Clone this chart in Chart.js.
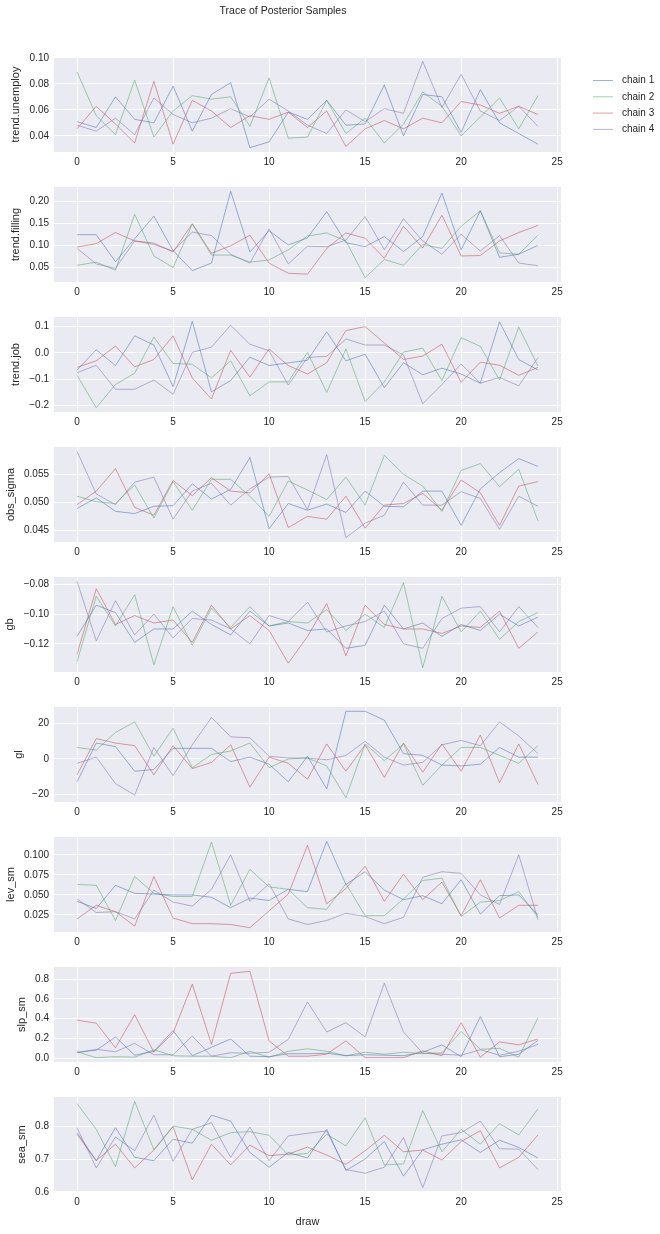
<!DOCTYPE html>
<html>
<head>
<meta charset="utf-8">
<script src="https://cdn.jsdelivr.net/npm/chart.js@4.4.0/dist/chart.umd.min.js"></script>
<style>
  body { margin: 0; background: #fff; width: 660px; height: 1234px; overflow: hidden; position: relative; }
  .panel { position: absolute; left: 0; width: 660px; height: 195px; }
</style>
</head>
<body>
<script>
// x values and labels
var draws = [0, 1, 2, 3, 4, 5, 6, 7, 8, 9, 10, 11, 12, 13, 14, 15, 16, 17, 18, 19, 20, 21, 22, 23, 24];
var xTicks = [0, 5, 10, 15, 20, 25];
var chainNames = ['chain 1', 'chain 2', 'chain 3', 'chain 4'];
var paramNames = ['trend.unemploy', 'trend.filling', 'trend.job', 'obs_sigma', 'gb', 'gl', 'lev_sm', 'slp_sm', 'sea_sm'];

// one array per chain, chains 1..4
var trendUnemploy = [
  [0.0509, 0.0464, 0.0700, 0.0527, 0.0500, 0.0782, 0.0436, 0.0718, 0.0809, 0.0309, 0.0354, 0.0582, 0.0527, 0.0673, 0.0482, 0.0491, 0.0791, 0.0400, 0.0718, 0.0700, 0.0427, 0.0755, 0.0500, 0.0418, 0.0336],
  [0.0891, 0.0555, 0.0409, 0.0828, 0.0391, 0.0591, 0.0709, 0.0682, 0.0700, 0.0473, 0.0846, 0.0382, 0.0391, 0.0673, 0.0418, 0.0536, 0.0345, 0.0491, 0.0737, 0.0627, 0.0400, 0.0545, 0.0691, 0.0454, 0.0709],
  [0.0454, 0.0627, 0.0491, 0.0345, 0.0819, 0.0336, 0.0673, 0.0591, 0.0464, 0.0555, 0.0527, 0.0582, 0.0464, 0.0591, 0.0318, 0.0454, 0.0518, 0.0454, 0.0536, 0.0500, 0.0664, 0.0637, 0.0573, 0.0627, 0.0564],
  [0.0482, 0.0436, 0.0536, 0.0409, 0.0691, 0.0564, 0.0500, 0.0536, 0.0609, 0.0545, 0.0682, 0.0591, 0.0482, 0.0418, 0.0600, 0.0509, 0.0609, 0.0573, 0.0973, 0.0618, 0.0873, 0.0591, 0.0518, 0.0627, 0.0473]
];
var trendFilling = [
  [0.124, 0.124, 0.063, 0.115, 0.166, 0.088, 0.043, 0.060, 0.222, 0.085, 0.133, 0.101, 0.117, 0.176, 0.106, 0.097, 0.120, 0.086, 0.120, 0.218, 0.090, 0.178, 0.073, 0.080, 0.100],
  [0.055, 0.062, 0.044, 0.170, 0.076, 0.050, 0.148, 0.078, 0.078, 0.062, 0.067, 0.090, 0.121, 0.128, 0.110, 0.027, 0.068, 0.055, 0.102, 0.093, 0.143, 0.178, 0.083, 0.080, 0.123],
  [0.096, 0.104, 0.129, 0.110, 0.105, 0.085, 0.149, 0.082, 0.099, 0.123, 0.060, 0.037, 0.035, 0.093, 0.128, 0.116, 0.071, 0.143, 0.094, 0.168, 0.076, 0.077, 0.110, 0.129, 0.145],
  [0.093, 0.058, 0.048, 0.110, 0.102, 0.087, 0.130, 0.122, 0.080, 0.060, 0.137, 0.058, 0.098, 0.097, 0.112, 0.165, 0.090, 0.160, 0.110, 0.080, 0.125, 0.087, 0.122, 0.060, 0.054]
];
var trendJob = [
  [-0.065, 0.012, -0.048, 0.065, 0.030, -0.128, 0.120, -0.148, -0.105, -0.016, -0.048, -0.038, -0.028, 0.080, -0.030, -0.005, -0.132, -0.037, -0.083, -0.058, -0.080, -0.115, 0.118, -0.025, -0.065],
  [-0.085, -0.208, -0.120, -0.077, 0.060, -0.040, -0.043, -0.095, -0.030, -0.163, -0.110, -0.110, 0.002, -0.150, 0.015, -0.185, -0.110, 0.003, 0.018, -0.105, 0.058, 0.025, -0.103, 0.098, -0.050],
  [-0.055, -0.030, 0.026, -0.053, -0.025, 0.065, -0.095, -0.175, 0.010, -0.092, 0.015, -0.048, -0.080, -0.037, 0.085, 0.100, 0.038, -0.025, -0.012, 0.033, -0.112, -0.035, -0.047, -0.085, -0.055],
  [-0.075, -0.047, -0.138, -0.138, -0.103, -0.157, 0.002, 0.022, 0.105, 0.033, 0.008, -0.122, -0.017, -0.013, 0.053, 0.030, 0.030, -0.008, -0.193, -0.120, -0.042, -0.115, -0.093, -0.125, -0.018]
];
var obsSigma = [
  [0.0489, 0.0508, 0.0484, 0.0480, 0.0493, 0.0494, 0.0533, 0.0506, 0.0523, 0.0580, 0.0453, 0.0498, 0.0486, 0.0497, 0.0482, 0.0520, 0.0493, 0.0492, 0.0520, 0.0520, 0.0459, 0.0524, 0.0553, 0.0578, 0.0564],
  [0.0511, 0.0501, 0.0498, 0.0531, 0.0472, 0.0537, 0.0486, 0.0541, 0.0541, 0.0511, 0.0475, 0.0538, 0.0522, 0.0505, 0.0545, 0.0495, 0.0584, 0.0550, 0.0529, 0.0484, 0.0557, 0.0569, 0.0528, 0.0559, 0.0467],
  [0.0496, 0.0520, 0.0560, 0.0491, 0.0477, 0.0539, 0.0512, 0.0544, 0.0520, 0.0517, 0.0551, 0.0455, 0.0475, 0.0470, 0.0511, 0.0454, 0.0495, 0.0498, 0.0516, 0.0486, 0.0540, 0.0517, 0.0459, 0.0529, 0.0537],
  [0.0591, 0.0515, 0.0496, 0.0536, 0.0545, 0.0470, 0.0520, 0.0534, 0.0495, 0.0524, 0.0545, 0.0546, 0.0487, 0.0585, 0.0437, 0.0463, 0.0477, 0.0536, 0.0495, 0.0495, 0.0519, 0.0507, 0.0452, 0.0511, 0.0493]
];
var gb = [
  [-0.115, -0.094, -0.099, -0.119, -0.110, -0.110, -0.098, -0.107, -0.114, -0.098, -0.108, -0.106, -0.111, -0.110, -0.123, -0.121, -0.094, -0.110, -0.106, -0.115, -0.107, -0.111, -0.100, -0.108, -0.102],
  [-0.132, -0.088, -0.108, -0.087, -0.134, -0.095, -0.121, -0.096, -0.109, -0.095, -0.108, -0.105, -0.106, -0.097, -0.111, -0.100, -0.109, -0.079, -0.136, -0.088, -0.112, -0.098, -0.117, -0.105, -0.099],
  [-0.127, -0.083, -0.107, -0.101, -0.106, -0.104, -0.119, -0.094, -0.110, -0.101, -0.111, -0.133, -0.115, -0.093, -0.128, -0.094, -0.107, -0.110, -0.110, -0.113, -0.108, -0.109, -0.098, -0.123, -0.112],
  [-0.078, -0.118, -0.091, -0.114, -0.100, -0.116, -0.103, -0.104, -0.110, -0.120, -0.101, -0.105, -0.092, -0.112, -0.108, -0.105, -0.098, -0.120, -0.123, -0.103, -0.096, -0.095, -0.112, -0.095, -0.109]
];
var gl = [
  [-13, 9, 7, -7, -6, 6, 6, 6, -1.5, 1, -3, -13, 1.5, -17, 27, 27, 22, 3, 2, -3.5, -4, -3, 6.5, 1, 1],
  [6.5, 5, 15, 21, 1.5, 17.5, -5, 2.5, 4.5, 9, -5, 0, 0.5, -4, -22, 8.5, -1, 8.5, -15, -3.5, 6.5, 6.5, 2, -2.5, 7.5],
  [-9, 11.5, 9, 7.5, -9, 7.5, -5.5, -2, 8, -16, 1, -2.5, -11.5, 8.5, -7, 8, -10.5, 9, -7.5, 8.5, -7, 13.5, -13.5, 8.5, -14.5],
  [-2.5, 1, -14, -20.5, 6.5, -9.5, 8, 23.5, 12.5, 12, 1.5, 0.5, 0.5, -0.5, 2, 10, 1, -3.5, -2, 8, 10.5, 7.5, 21, 13, 3]
];
var levSm = [
  [0.042, 0.033, 0.062, 0.052, 0.051, 0.050, 0.050, 0.047, 0.034, 0.046, 0.043, 0.057, 0.054, 0.117, 0.063, 0.079, 0.056, 0.044, 0.049, 0.039, 0.069, 0.026, 0.049, 0.050, 0.025],
  [0.063, 0.062, 0.018, 0.073, 0.052, 0.048, 0.048, 0.116, 0.037, 0.082, 0.060, 0.057, 0.034, 0.032, 0.064, 0.024, 0.024, 0.045, 0.068, 0.071, 0.023, 0.041, 0.043, 0.054, 0.022],
  [0.020, 0.037, 0.029, 0.011, 0.073, 0.021, 0.014, 0.014, 0.013, 0.009, 0.030, 0.051, 0.112, 0.039, 0.058, 0.086, 0.042, 0.076, 0.044, 0.066, 0.024, 0.069, 0.021, 0.037, 0.037],
  [0.045, 0.028, 0.029, 0.020, 0.056, 0.041, 0.036, 0.057, 0.100, 0.042, 0.064, 0.020, 0.013, 0.018, 0.027, 0.023, 0.014, 0.022, 0.072, 0.079, 0.077, 0.050, 0.038, 0.100, 0.019]
];
var slpSm = [
  [0.060, 0.080, 0.215, 0.030, 0.070, 0.280, 0.025, 0.110, 0.195, 0.020, 0.015, 0.045, 0.045, 0.050, 0.025, 0.035, 0.030, 0.025, 0.060, 0.135, 0.015, 0.420, 0.015, 0.040, 0.180],
  [0.065, 0.005, 0.015, 0.010, 0.085, 0.025, 0.020, 0.020, 0.005, 0.070, 0.010, 0.070, 0.095, 0.070, 0.025, 0.060, 0.040, 0.060, 0.045, 0.055, 0.270, 0.090, 0.100, 0.010, 0.410],
  [0.385, 0.355, 0.105, 0.440, 0.060, 0.255, 0.750, 0.140, 0.860, 0.880, 0.175, 0.020, 0.020, 0.040, 0.175, 0.005, 0.005, 0.005, 0.075, 0.025, 0.360, 0.010, 0.165, 0.135, 0.195],
  [0.055, 0.090, 0.065, 0.150, 0.035, 0.035, 0.225, 0.020, 0.055, 0.050, 0.060, 0.190, 0.570, 0.265, 0.360, 0.215, 0.760, 0.265, 0.050, 0.040, 0.030, 0.085, 0.030, 0.070, 0.140]
];
var seaSm = [
  [0.780, 0.695, 0.795, 0.705, 0.695, 0.760, 0.748, 0.833, 0.815, 0.720, 0.675, 0.720, 0.703, 0.790, 0.665, 0.700, 0.753, 0.648, 0.728, 0.745, 0.758, 0.720, 0.757, 0.735, 0.703],
  [0.868, 0.790, 0.677, 0.875, 0.728, 0.800, 0.790, 0.757, 0.780, 0.783, 0.772, 0.712, 0.717, 0.775, 0.740, 0.825, 0.682, 0.685, 0.847, 0.722, 0.790, 0.745, 0.807, 0.773, 0.852],
  [0.775, 0.695, 0.745, 0.673, 0.727, 0.798, 0.637, 0.745, 0.682, 0.742, 0.710, 0.715, 0.736, 0.712, 0.684, 0.725, 0.772, 0.722, 0.727, 0.697, 0.753, 0.786, 0.673, 0.705, 0.773],
  [0.795, 0.673, 0.767, 0.725, 0.833, 0.693, 0.790, 0.810, 0.705, 0.797, 0.695, 0.770, 0.778, 0.785, 0.668, 0.657, 0.675, 0.765, 0.613, 0.770, 0.780, 0.815, 0.731, 0.730, 0.668]
];

// y tick values and their labels, per panel
var unemployTicks = [0.04, 0.06, 0.08, 0.10];
var unemployLabels = ['0.04', '0.06', '0.08', '0.10'];
var fillingTicks = [0.05, 0.10, 0.15, 0.20];
var fillingLabels = ['0.05', '0.10', '0.15', '0.20'];
var jobTicks = [-0.2, -0.1, 0.0, 0.1];
var jobLabels = ['\u22120.2', '\u22120.1', '0.0', '0.1'];
var sigmaTicks = [0.045, 0.050, 0.055];
var sigmaLabels = ['0.045', '0.050', '0.055'];
var gbTicks = [-0.12, -0.10, -0.08];
var gbLabels = ['\u22120.12', '\u22120.10', '\u22120.08'];
var glTicks = [-20, 0, 20];
var glLabels = ['\u221220', '0', '20'];
var levTicks = [0.025, 0.050, 0.075, 0.100];
var levLabels = ['0.025', '0.050', '0.075', '0.100'];
var slpTicks = [0.0, 0.2, 0.4, 0.6, 0.8];
var slpLabels = ['0.0', '0.2', '0.4', '0.6', '0.8'];
var seaTicks = [0.6, 0.7, 0.8];
var seaLabels = ['0.6', '0.7', '0.8'];

var allSeries = [trendUnemploy, trendFilling, trendJob, obsSigma, gb, gl, levSm, slpSm, seaSm];
var allTicks = [unemployTicks, fillingTicks, jobTicks, sigmaTicks, gbTicks, glTicks, levTicks, slpTicks, seaTicks];
var allLabels = [unemployLabels, fillingLabels, jobLabels, sigmaLabels, gbLabels, glLabels, levLabels, slpLabels, seaLabels];

var chainColors = ['rgba(76,114,176,0.55)', 'rgba(85,168,104,0.55)', 'rgba(196,78,82,0.55)', 'rgba(129,114,178,0.55)'];
var FONT = '"Liberation Sans", Arial, sans-serif';
var TXT = '#262626';
var PANEL_TOP = 57, PANEL_H = 95, PANEL_STEP = 130, CANVAS_H = 195;

var bgPlugin = {
  id: 'bg',
  beforeDraw: function(chart) {
    var a = chart.chartArea, ctx = chart.ctx;
    ctx.save();
    ctx.fillStyle = '#EAEAF2';
    ctx.fillRect(a.left, a.top, a.right - a.left, a.bottom - a.top);
    ctx.restore();
  }
};

// suptitle and legend, drawn on the first panel's canvas
var headPlugin = {
  id: 'head',
  afterDraw: function(chart) {
    var ctx = chart.ctx;
    ctx.save();
    ctx.fillStyle = TXT;
    ctx.font = '10.5px ' + FONT;
    ctx.textAlign = 'center';
    ctx.textBaseline = 'middle';
    ctx.fillText('Trace of Posterior Samples', 283, 11);
    ctx.font = '10px ' + FONT;
    ctx.textAlign = 'left';
    chart.data.datasets.forEach(function(ds, k) {
      var y = 80.5 + k * 16.3;
      ctx.strokeStyle = ds.borderColor;
      ctx.lineWidth = 1;
      ctx.beginPath();
      ctx.moveTo(593, y);
      ctx.lineTo(613, y);
      ctx.stroke();
      ctx.fillText(ds.label, 622, y);
    });
    ctx.restore();
  }
};

var measure = document.createElement('canvas').getContext('2d');
measure.font = '10px ' + FONT;

function makePanel(i) {
  var series = allSeries[i], ticks = allTicks[i], labels = allLabels[i];
  var div = document.createElement('div');
  div.className = 'panel';
  div.style.top = (PANEL_STEP * i) + 'px';
  var cv = document.createElement('canvas');
  cv.width = 660; cv.height = CANVAS_H;
  div.appendChild(cv);
  document.body.appendChild(div);

  var flat = [].concat.apply([], series);
  var lo = Math.min.apply(null, flat), hi = Math.max.apply(null, flat);
  var m = (hi - lo) * 0.05;

  var tw = 0;
  labels.forEach(function(l) { tw = Math.max(tw, measure.measureText(l).width); });
  var titlePad = Math.max(0, 49 - tw - 13.5 - 6.6);

  new Chart(cv, {
    type: 'line',
    data: {
      datasets: series.map(function(s, k) {
        return {
          label: chainNames[k],
          data: s.map(function(v, j) { return { x: draws[j], y: v }; }),
          borderColor: chainColors[k],
          borderWidth: 1,
          pointRadius: 0,
          fill: false,
          tension: 0
        };
      })
    },
    options: {
      responsive: false,
      animation: false,
      events: [],
      layout: { padding: { top: PANEL_TOP, right: 99, left: 0, bottom: 0 } },
      plugins: { legend: { display: false }, tooltip: { enabled: false } },
      scales: {
        x: {
          type: 'linear',
          min: -1.2, max: 25.2,
          afterBuildTicks: function(s) { s.ticks = xTicks.map(function(v) { return { value: v }; }); },
          afterFit: function(s) { s.height = CANVAS_H - PANEL_TOP - PANEL_H; },
          ticks: { autoSkip: false, maxRotation: 0, padding: 4, color: TXT, font: { family: FONT, size: 10 },
                   callback: function(v) { return String(v); } },
          grid: { color: '#ffffff', lineWidth: 1, drawTicks: false },
          border: { display: false },
          title: { display: i === 8, text: 'draw', color: TXT, font: { family: FONT, size: 11 }, padding: { top: 0, bottom: 6 } }
        },
        y: {
          min: lo - m, max: hi + m,
          afterBuildTicks: function(s) { s.ticks = ticks.map(function(v) { return { value: v }; }); },
          afterFit: function(s) { s.width = 54; },
          ticks: { padding: 5, color: TXT, font: { family: FONT, size: 10 },
                   callback: function(v, idx) { return labels[idx]; } },
          grid: { color: '#ffffff', lineWidth: 1, drawTicks: false },
          border: { display: false },
          title: { display: true, text: paramNames[i], color: TXT, font: { family: FONT, size: 11 }, padding: { top: titlePad, bottom: 0 } }
        }
      }
    },
    plugins: i === 0 ? [bgPlugin, headPlugin] : [bgPlugin]
  });
}

for (var i = 0; i < paramNames.length; i++) makePanel(i);
</script>
</body>
</html>
